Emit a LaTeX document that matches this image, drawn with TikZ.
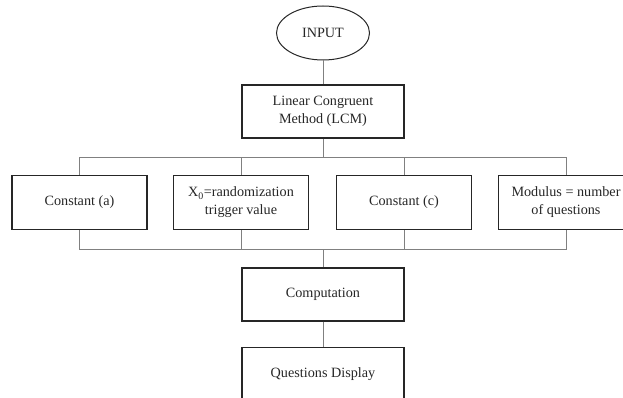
\documentclass[tikz,border=0pt]{standalone}
\usepackage{fontspec}
\setmainfont{Liberation Serif}
\usepackage{tikz}
\usetikzlibrary{positioning,shapes.geometric}

\begin{document}
\begin{tikzpicture}[x=1pt,y=-1pt]
\tikzstyle{every node}+=[inner sep=0pt,font=\fontsize{14.2}{18}\selectfont,text=black!85]
\tikzstyle{box}=[draw=black!85,line width=1.1pt,minimum width=135,minimum height=54,align=center]
\tikzstyle{wide}=[box,minimum width=162,minimum height=53]
\tikzstyle{link}=[draw=black!50,line width=0.8pt]
\useasboundingbox (0,0) rectangle (623,398);
\clip (0,0) rectangle (623,398);
\node [draw=black!85,line width=1pt,ellipse,minimum width=93,minimum height=54] (input) at (323,33) {INPUT};
\node [wide] (lcm) at (323,111.5) {Linear Congruent\\Method (LCM)};
\node [box] (consta) at (79.5,202.5) {Constant (a)};
\node [box] (xzero) at (241,202.5) {X\textsubscript{0}=randomization\\trigger value};
\node [box] (constc) at (404,202.5) {Constant (c)};
\node [box] (modulus) at (566,202.5) {Modulus = number\\of questions};
\node [wide] (comp) at (323,294.5) {Computation};
\node [wide] (disp) at (323,374) {Questions Display};
\coordinate (splitA) at (323,157);
\coordinate (splitB) at (323,249);
\draw [link] (input) -- (lcm);
\draw [link] (lcm) -- (splitA);
\foreach \n in {consta,xzero,constc,modulus}
{
\draw [link] (\n.north) |- (splitA);
\draw [link] (\n.south) |- (splitB);
}
\draw [link] (splitB) -- (comp);
\draw [link] (comp) -- (disp);
\end{tikzpicture}
\end{document}
